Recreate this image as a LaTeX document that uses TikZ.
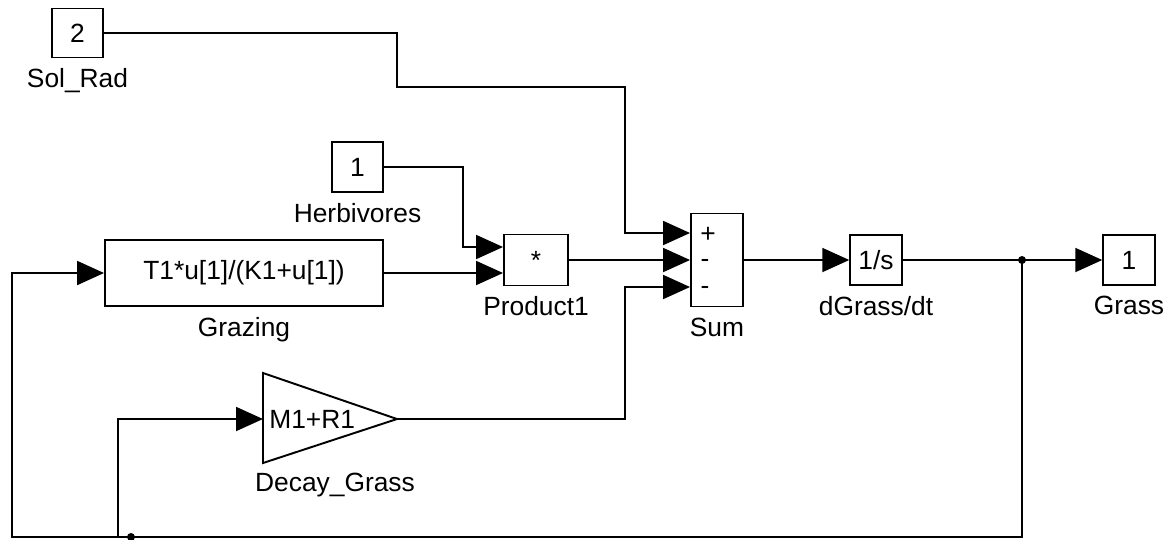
\documentclass[tikz,border=0pt]{standalone}
\usepackage{fontspec}
\setmainfont{Liberation Sans}
\usetikzlibrary{positioning,arrows.meta}
\newcommand{\blockfont}{\fontsize{15}{17}\selectfont}

\begin{document}
\begin{tikzpicture}[
            x=0.02cm, y=-0.02cm,
            blockbox/.style={
                draw,
                line width=1.1pt,
                inner sep=0pt,
                font=\blockfont
            },
            portbox/.style={
                blockbox,
                minimum width=1.03cm,
                minimum height=1.0cm
            },
            namelabel/.style={
                font=\blockfont,
                inner sep=0pt
            },
            sigline/.style={
                line width=1.1pt
            },
            sigarrow/.style={
                sigline,
                -{Triangle[length=0.54cm,width=0.48cm]}
            }
        ]
        \useasboundingbox (0,0) rectangle (1169,539);

        % --- Inputs ---
        \node[portbox, minimum height=0.98cm] (solrad) at (77.5,33) {2};
        \node[namelabel, below=0.2cm of solrad] (solradlbl) {Sol\_Rad};

        \node[portbox] (herb) at (357.5,167) {1};
        \node[namelabel, below=0.2cm of herb] (herblbl) {Herbivores};

        % --- Grazing and product ---
        \node[blockbox, minimum width=5.56cm, minimum height=1.32cm]
            (grazing) at (244,273) {T1*u[1]/(K1+u[1])};
        \node[namelabel, below=0.2cm of grazing] (grazinglbl) {Grazing};

        \node[blockbox, minimum width=1.28cm, minimum height=1.02cm]
            (product) at (536,260) {*};
        \node[namelabel, below=0.2cm of product] (productlbl) {Product1};

        % --- Decay gain ---
        \coordinate (gainin) at (263,419);
        \coordinate (gainout) at (397,419);
        \draw[sigline] (263,373) -- (gainout) -- (263,463) -- cycle;
        \node[namelabel, anchor=west] (gaintxt) at (269,419) {M1+R1};
        \node[namelabel, anchor=north] (gainlbl) at (335,473) {Decay\_Grass};

        % --- Sum ---
        \node[blockbox, minimum width=1.04cm, minimum height=1.86cm]
            (sum) at (717,260) {};
        \node[namelabel, anchor=base] (sumplus) at (708,242) {+};
        \node[namelabel, anchor=base] (summinusa) at (705,267) {-};
        \node[namelabel, anchor=base] (summinusb) at (705,294) {-};
        \node[namelabel, below=0.2cm of sum] (sumlbl) {Sum};

        % --- Integrator and output ---
        \node[portbox] (integ) at (876,260) {1/s};
        \node[namelabel, below=0.2cm of integ] (integlbl) {dGrass/dt};

        \node[portbox] (grassout) at (1129,260) {1};
        \node[namelabel, below=0.2cm of grassout] (grassoutlbl) {Grass};

        \coordinate (tap) at (1022,260);
        \coordinate (branch) at (118,537);

        % --- Signals ---
        \draw[sigarrow] (solrad.east) -| (397,87) -| (625,233)
            -- ([yshift=0.54cm]sum.west);
        \draw[sigarrow] (herb.east) -| (463,247)
            -- ([yshift=0.26cm]product.west);
        \draw[sigarrow] (grazing.east) -- ([yshift=-0.26cm]product.west);
        \draw[sigarrow] (product.east) -- (sum.west);
        \draw[sigarrow] (gainout) -| (625,287)
            -- ([yshift=-0.54cm]sum.west);
        \draw[sigarrow] (sum.east) -- (integ.west);
        \draw[sigarrow] (integ.east) -- (grassout.west);

        % --- Feedback ---
        \draw[sigarrow] (tap) -- (1022,537) -| (12,273) -- (grazing.west);
        \draw[sigarrow] (branch) |- (gainin);
        \fill (tap) circle[radius=0.08cm];
        \fill (131,537) circle[radius=0.08cm];

        \end{tikzpicture}
\end{document}
